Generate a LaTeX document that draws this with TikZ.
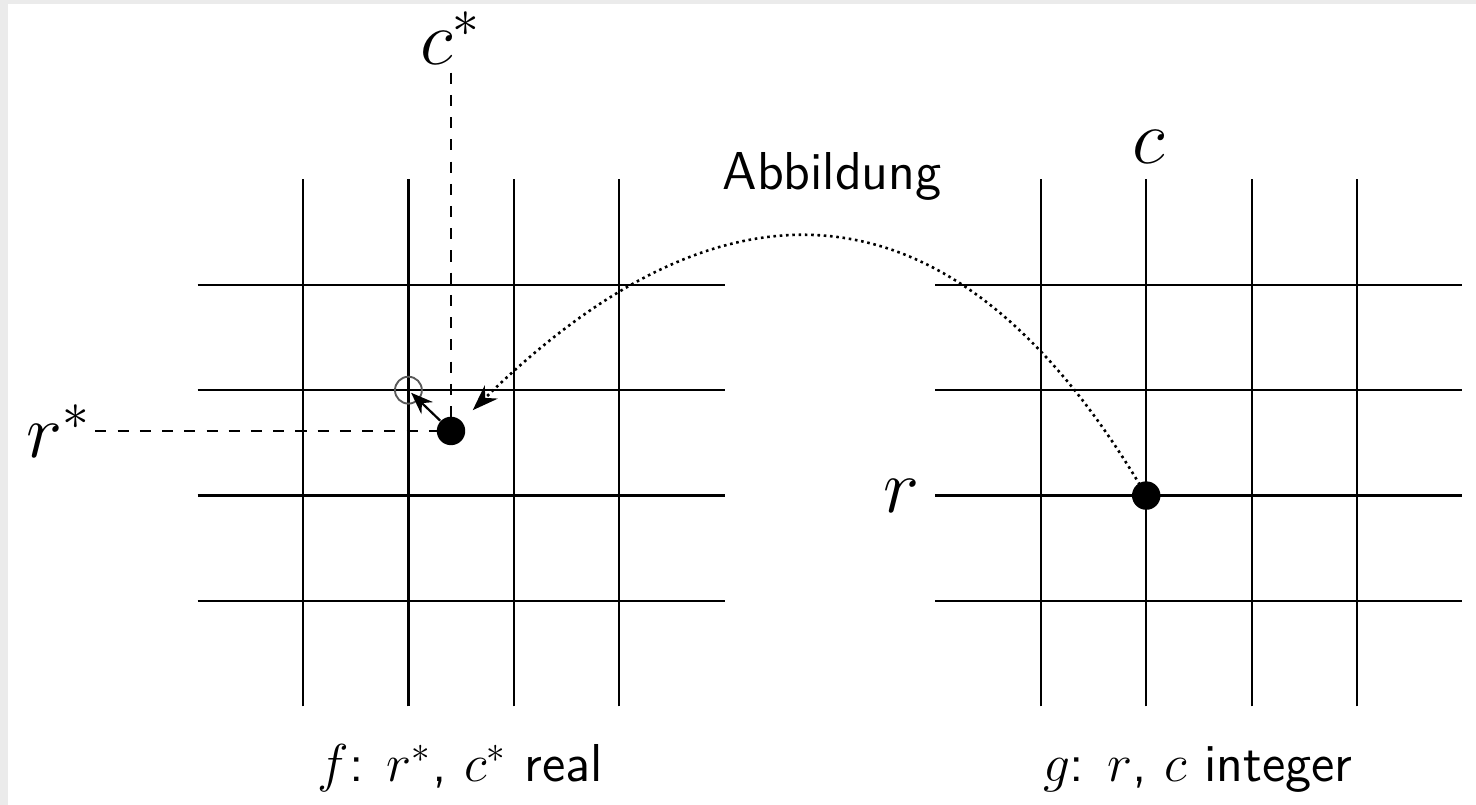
\documentclass[tikz,border=0pt]{standalone}
\usetikzlibrary{arrows.meta}
\begin{document}
\begin{tikzpicture}[
  gridline/.style={line width=0.6pt},
  dotnode/.style={circle,fill=black,inner sep=0pt,minimum size=0.27cm},
  ringnode/.style={circle,draw=black!65,line width=0.5pt,inner sep=0pt,minimum size=0.255cm},
  mlabel/.style={inner sep=2pt,font=\huge},
  tlabel/.style={inner sep=2pt,font=\Large\sffamily},
  guide/.style={dashed,line width=0.5pt},
  mapping/.style={densely dotted,line width=0.7pt,-{Stealth[length=7pt,width=5pt]}},
  movearrow/.style={line width=0.6pt,-{Stealth[length=6pt,width=4.5pt]},shorten >=1pt}
]
\useasboundingbox (-2.875,-1.935) rectangle (11.129,5.702);
\fill[black!8] (-2.875,-1.935) rectangle (11.129,5.702);
\fill[white] (-2.799,-1.935) rectangle (11.129,5.664);

% left grid
\foreach \x in {0,1,2,3} \draw[gridline] (\x,-1) -- (\x,4);
\foreach \y in {0,1,2,3} \draw[gridline] (-1,\y) -- (4,\y);
% right grid
\foreach \x in {7,8,9,10} \draw[gridline] (\x,-1) -- (\x,4);
\foreach \y in {0,1,2,3} \draw[gridline] (6,\y) -- (11,\y);

% nodes
\node[ringnode] (ring) at (1,2) {};
\node[dotnode] (dotL) at (1.404,1.613) {};
\node[dotnode] (dotR) at (8,1) {};
\coordinate (mapend) at (1.61,1.81);

\node[mlabel,anchor=base] (cstar) at (1.40,5.09) {$c^*$};
\node[mlabel,anchor=east,inner xsep=1pt] (rstar) at (-1.97,1.613) {$r^*$};
\node[mlabel,anchor=east] (rlab) at (5.93,1) {$r$};
\node[mlabel,anchor=base] (clab) at (8.02,4.155) {$c$};
\node[tlabel,anchor=base] (abb) at (5.02,3.90) {Abbildung};
\node[tlabel,anchor=base] (flab) at (1.49,-1.717) {$f$: $r^*$, $c^*$ real};
\node[tlabel,anchor=base] (glab) at (8.49,-1.717) {$g$: $r$, $c$ integer};

% guides
\draw[guide] (dotL.center |- cstar.south) -- (dotL.center);
\draw[guide] (rstar.east) -- (dotL.center);

% arrows
\draw[movearrow] (dotL) -- (ring.center);
\draw[mapping] (dotR.center) .. controls (6.1,4.25) and (3.86,4.02) .. (mapend);
\end{tikzpicture}
\end{document}
